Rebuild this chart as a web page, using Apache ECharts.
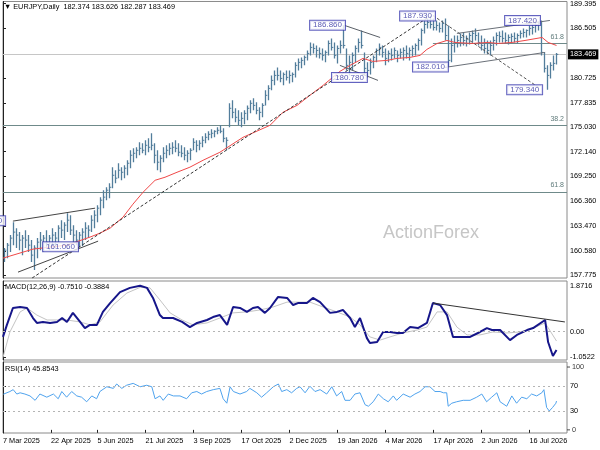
<!DOCTYPE html>
<html><head><meta charset="utf-8">
<script src="https://cdn.jsdelivr.net/npm/echarts@6.0.0/dist/echarts.min.js"></script>
<style>html,body{margin:0;padding:0;background:#fff}#c{width:600px;height:450px}</style>
</head><body><div id="c"></div>
<script>
// ---- data ----
const barHigh=[160.91,161.49,162.42,163.93,163.23,162.77,162.42,163.00,162.42,161.84,
161.25,162.07,162.77,162.42,163.00,162.42,163.23,162.77,163.58,164.16,
163.93,164.98,164.74,163.58,163.00,162.77,163.23,163.93,163.58,164.74,
165.33,165.91,166.84,167.65,167.99,168.46,170.33,169.98,170.79,170.33,
170.56,171.14,172.30,172.53,172.65,173.23,173.12,173.46,173.69,174.28,
173.12,172.30,171.72,172.65,172.88,173.12,173.23,173.46,173.12,172.88,
172.65,172.30,172.53,173.69,173.46,173.46,173.93,174.28,174.51,174.74,
174.63,174.98,175.21,174.86,173.81,177.77,178.12,177.19,176.95,176.72,
176.95,177.53,178.12,178.35,177.88,177.30,177.77,179.28,179.86,181.02,
181.60,181.95,181.60,181.37,181.60,181.60,181.37,182.54,183.00,183.12,
183.35,183.93,184.86,184.74,184.51,184.28,184.16,183.93,185.09,185.33,
184.86,184.51,185.09,186.86,184.16,183.35,183.70,184.51,185.33,186.26,
183.70,182.54,183.00,183.35,184.16,184.74,184.51,184.16,183.93,184.16,
184.28,183.93,184.16,184.28,184.51,184.28,184.51,184.74,185.33,186.49,
187.42,187.65,187.93,187.65,187.42,187.19,187.42,187.65,186.84,185.33,
185.67,185.67,185.91,186.02,185.67,186.02,186.26,186.49,186.02,185.67,
185.33,185.09,185.09,185.56,186.02,186.14,186.26,186.02,185.79,185.91,
186.02,185.91,186.26,186.49,186.37,186.84,186.95,187.19,187.30,187.42,
183.70,182.19,182.54,183.35,183.626];
const barLow=[159.28,159.74,160.44,161.25,160.91,160.67,160.09,160.91,160.44,159.28,
158.35,159.74,160.67,160.44,160.91,160.67,161.25,160.91,161.60,162.07,
161.84,162.77,162.42,161.60,161.25,161.02,161.14,161.84,162.07,162.77,
163.23,163.93,164.74,165.56,166.49,166.72,167.88,168.46,169.05,168.81,
169.05,169.39,170.21,170.91,171.37,171.72,171.95,171.72,172.07,172.30,
170.79,169.98,169.74,170.91,171.37,171.72,171.84,172.07,171.60,171.49,
171.14,170.91,171.14,172.30,172.07,172.30,172.65,173.12,173.46,173.69,
173.81,174.16,174.28,173.23,172.30,174.98,176.02,175.56,175.21,174.98,
175.33,175.79,176.60,176.95,176.49,175.79,176.14,177.53,178.12,179.28,
179.86,180.44,180.21,179.86,180.44,180.09,180.21,180.79,181.60,181.84,
182.19,182.77,183.35,183.58,183.12,183.00,182.77,182.54,183.35,183.93,
183.00,182.42,183.58,184.16,181.60,181.02,181.60,182.54,183.70,184.16,
181.02,180.78,181.14,181.84,182.54,183.35,183.12,182.19,182.54,182.77,
183.00,182.54,183.00,182.77,183.00,182.77,183.23,183.35,183.93,184.51,
185.91,186.49,186.49,186.26,186.26,186.02,186.02,185.09,182.01,182.54,
183.70,184.28,184.40,184.51,184.40,184.63,184.86,185.09,184.51,183.93,
183.58,183.47,183.35,183.93,184.51,184.86,184.86,184.74,184.63,184.86,
184.86,184.74,185.33,185.44,185.44,185.67,185.79,186.02,186.26,183.35,
181.37,179.34,180.67,181.60,182.287];
const barClose=[160.67,161.25,162.07,162.77,162.42,161.84,162.07,161.84,161.25,160.09,
160.91,161.60,161.84,162.07,161.60,162.07,162.42,162.07,163.23,163.00,
163.58,164.16,163.00,162.42,161.84,162.42,162.77,163.23,163.00,164.16,
164.74,165.56,166.49,166.84,167.65,167.99,169.39,169.05,169.98,169.74,
170.21,170.79,171.72,171.95,172.30,172.53,172.30,172.88,172.65,172.88,
171.72,170.91,171.37,171.95,172.30,172.53,172.65,172.53,172.07,171.95,
171.72,171.95,172.30,173.23,172.88,173.12,173.46,173.81,174.16,174.28,
174.51,174.63,174.51,173.69,173.46,177.19,176.72,176.14,175.79,176.02,
176.60,177.19,177.77,177.53,176.95,176.72,177.53,178.70,179.51,180.44,
181.02,181.02,180.67,181.14,180.79,181.02,181.14,182.19,182.54,182.77,
183.12,183.58,184.28,184.16,183.93,183.58,183.35,183.70,184.74,184.28,
183.35,184.16,184.51,184.51,182.19,182.54,183.35,184.16,184.86,184.51,
181.84,181.60,182.54,183.12,183.93,184.28,183.70,183.00,183.58,183.35,
183.93,183.35,183.70,183.93,183.58,183.93,184.16,184.51,185.09,186.26,
186.95,187.19,186.95,186.60,186.84,186.49,187.07,185.67,182.77,184.51,
184.86,185.09,185.44,185.09,185.33,185.67,185.91,185.67,184.86,184.51,
184.16,183.93,184.51,185.09,185.67,185.56,185.33,185.09,185.44,185.56,
185.33,185.67,185.91,186.02,186.26,186.49,186.60,186.84,187.07,183.70,
181.84,181.02,182.19,182.42,183.469];
// moving average (bar position, price)
const maPts=[[0,159.74],[10,160.79],[21.3,161.25],[29,162.19],[32.3,162.65],[35.7,163.23],[40,164.51],[43.3,166.02],[46.7,167.42],[50.7,168.81],[54,169.16],[58,169.74],[62.3,170.33],[66.7,171.14],[72.3,172.07],[80,173.81],[89,175.21],[93.3,176.72],[98,177.53],[102.3,178.70],[106.7,179.86],[112.3,181.49],[115.7,182.19],[120,183.00],[123.3,182.65],[128,182.77],[131.3,183.00],[135.7,183.12],[139,183.35],[141.3,184.05],[144.7,184.74],[148,185.09],[150.7,184.86],[156.3,184.74],[161.7,184.86],[165,184.74],[169.7,184.86],[174,185.09],[179.7,185.44],[181.7,184.86],[184.5,184.51]];
const macdPts=[[0,-0.22],[1.3,0.27],[3.3,0.96],[5.7,1.00],[8,0.96],[10,0.55],[11.3,0.35],[13.3,0.39],[15.7,0.35],[18,0.39],[19.7,0.55],[21.3,0.39],[23.3,0.76],[25.7,0.39],[27.3,0.14],[29,0.27],[31.3,0.27],[33.3,0.80],[35.7,1.16],[39,1.61],[42.3,1.78],[45.7,1.87],[48,1.78],[50,1.37],[52.3,0.67],[53.3,0.55],[56.7,0.55],[59.7,0.39],[62.3,0.18],[64.7,0.35],[68,0.47],[70,0.59],[72.3,0.67],[74.7,0.27],[76.7,1.00],[79,0.96],[81.3,0.80],[83.3,0.96],[85,1.00],[87.3,0.76],[89,0.96],[91.7,1.41],[94.7,1.37],[96.7,1.08],[98.3,1.16],[101.3,1.16],[103.3,1.37],[105.7,1.20],[109,0.76],[111.3,0.80],[113.3,0.88],[115.7,0.55],[117.3,0.18],[119,0.55],[121.3,-0.27],[122.3,-0.47],[124.7,-0.43],[126.7,-0.02],[129,-0.02],[131.3,-0.06],[133.3,-0.06],[135.7,0.18],[138.3,0.14],[141.3,0.35],[143.3,1.16],[145.7,1.08],[148,0.67],[150,-0.22],[152.3,-0.22],[155.7,-0.22],[159,-0.02],[161.3,0.14],[163,0.06],[165.7,0.06],[169,-0.35],[171.3,-0.14],[174.7,0.06],[176.7,0.14],[180.7,0.47],[181.7,-0.43],[183.3,-1.00],[184.5,-0.751]];
const signalPts=[[0,-1.05],[2.3,-0.02],[5.7,0.80],[8,0.96],[11.3,0.67],[14.7,0.47],[21.3,0.47],[25.7,0.39],[29,0.27],[32.3,0.39],[36.7,1.08],[41.3,1.57],[45.7,1.80],[49,1.78],[52.3,1.29],[55.7,0.76],[59.7,0.47],[63.3,0.27],[68,0.35],[72.3,0.55],[76.7,0.76],[81.3,0.80],[85.7,0.88],[90,1.00],[94.7,1.20],[98.3,1.20],[102.3,1.20],[106.7,1.00],[111.3,0.80],[115.7,0.59],[119,0.27],[122.3,-0.22],[125.7,-0.35],[129,-0.22],[133.3,-0.06],[138,0.06],[141.3,0.18],[144.7,0.80],[148,0.80],[151.3,0.18],[154.7,-0.14],[159,-0.14],[163.3,-0.02],[168,-0.06],[172.3,-0.02],[176.7,0.14],[180.7,0.35],[184.5,-0.3884]];
const rsiPts=[[0.1,56.7],[2.3,61],[3.4,64],[4.6,57],[5.7,59],[7.3,57],[9,54],[10.7,47],[12.3,57],[14.6,52],[16.8,57],[18.4,49.5],[19.6,61],[21.2,52],[22.9,61],[24.6,54],[26.2,52],[27.9,44.7],[29.6,54],[31.2,49.5],[32.3,61],[34.6,68.6],[36.8,66],[37.9,73],[39.6,66],[41.2,71],[43.4,74],[45.7,68.6],[47.9,71],[49.6,68.6],[50.7,49.5],[51.2,47],[52.3,54],[53.4,47],[55.1,57],[56.8,54],[59,54],[61.2,49.5],[62.9,59],[64.6,61],[66.2,57],[67.9,61],[70.1,64],[72.3,66],[73.4,49.5],[74.6,42.4],[75.7,68.6],[76.8,61],[79,57],[81.2,61],[82.3,66],[84.6,59],[86.2,52],[87.9,59],[90.1,68.6],[91.8,73],[92.9,61],[94.6,64],[96.2,59],[97.9,66],[99,68.6],[100.7,59],[102.3,69.5],[104,61],[105.7,64],[107.9,57],[109.6,68.6],[111.2,54],[112.9,61],[114,47],[115.7,47],[117.3,57],[119,59],[120.7,40],[121.8,37.6],[123.4,44.7],[125.1,57],[126.8,49.5],[128.4,44.7],[130.1,54],[131.2,47],[133.4,57],[135.7,52],[137.3,57],[139,61],[140.7,68.6],[142.3,68.6],[144,61],[145.7,61],[146.8,59],[147.9,59],[148.4,37.6],[149.6,42.4],[151.2,44.7],[153.4,47],[155.7,47],[157.9,52],[159.6,57],[161.2,44.7],[162.9,52],[164.6,59],[165.7,44.7],[167.9,37.6],[169.6,54],[171.2,42.4],[172.9,52],[174.6,49.5],[176.2,57],[177.9,54],[179.6,59],[180.3,64],[181.2,35.7],[182.1,30],[183.2,35.7],[184.3,42.4],[184.5,45.85]];
const priceTicks=[189.395,186.505,180.725,177.835,175.030,172.140,169.250,166.360,163.470,160.580,157.775];
const macdTicks=[1.8716,0,-1.0522];
const rsiLevelTicks=[70,30];
const rsiBoundTicks=[100,0];
const dateLabels=['7 Mar 2025','22 Apr 2025','5 Jun 2025','21 Jul 2025','3 Sep 2025','17 Oct 2025','2 Dec 2025','19 Jan 2026','4 Mar 2026','17 Apr 2026','2 Jun 2026','16 Jul 2026'];
const dateTickIdx=[0,16,31.5,47.5,63.5,79.5,95.5,111.5,127.5,143.5,159.5,175.5];
const lastPrice=183.469;
const fibLevels=[{name:'61.8',value:184.72,from:143.3},{name:'38.2',value:175.21,from:0},{name:'61.8',value:167.45,from:0}];
const pivotLabels=[
 {text:'164.050',at:0.7,price:164.10},
 {text:'161.060',at:25,price:161.06},
 {text:'186.860',at:114,price:186.86},
 {text:'180.780',at:121.3,price:180.78},
 {text:'187.930',at:144,price:187.93},
 {text:'182.010',at:148.3,price:182.01},
 {text:'187.420',at:179,price:187.42},
 {text:'179.340',at:179.7,price:179.34}];
const trendLines=[
 {pts:[[9.7,157.42],[142,187.85]],dash:true,color:'#333'},
 {pts:[[3.3,164.05],[30.7,165.56]],dash:false,color:'#444'},
 {pts:[[5,158.11],[31.7,161.72]],dash:false,color:'#444'},
 {pts:[[113.7,186.86],[125.7,185.44]],dash:false,color:'#5a6068'},
 {pts:[[112.3,182.19],[125,180.44]],dash:false,color:'#5a6068'},
 {pts:[[143.3,188.0],[179,179.51]],dash:true,color:'#555'},
 {pts:[[147.3,181.95],[180.7,183.70]],dash:false,color:'#6a7078'},
 {pts:[[151.3,185.91],[182.3,187.42]],dash:false,color:'#6a7078'}];
const macdTrend=[[143.3,1.16],[187.3,0.39]];
const N_SLOTS=188;

// ---- chart ----
const FONT='"Liberation Sans","DejaVu Sans",sans-serif';
const FS=7.3;
const BAR_COLOR='#527d9b';
const chart=echarts.init(document.getElementById('c'),null,{renderer:'canvas'});
const barData=barHigh.map((h,i)=>[i+0.5,h,barLow[i],barClose[i]]);

const xBase={type:'value',min:0,max:N_SLOTS,show:false,splitLine:{show:false}};
const yCommon=(idx,min,max,ticks,fmt)=>({
  type:'value',gridIndex:idx,position:'right',min:min,max:max,scale:true,
  axisLine:{show:true,lineStyle:{color:'#222',width:1}},
  axisTick:{show:true,length:3,lineStyle:{color:'#222'},customValues:ticks},
  axisLabel:{customValues:ticks,formatter:fmt,fontSize:FS,fontFamily:FONT,color:'#000',margin:3,showMinLabel:true,showMaxLabel:true},
  splitLine:{show:false}
});

const series=[];
series.push({
  type:'custom',xAxisIndex:0,yAxisIndex:0,data:barData,clip:true,z:3,
  renderItem:(params,api)=>{
    const x=api.value(0);
    const t=api.coord([x,api.value(1)]);
    const b=api.coord([x,api.value(2)]);
    const c=api.coord([x,api.value(3)]);
    return {type:'group',children:[
      {type:'line',shape:{x1:t[0],y1:t[1],x2:b[0],y2:b[1]},style:{stroke:BAR_COLOR,lineWidth:1.3}},
      {type:'line',shape:{x1:c[0],y1:c[1],x2:c[0]+1.8,y2:c[1]},style:{stroke:BAR_COLOR,lineWidth:1}}
    ]};
  }
});
const fibMark=fibLevels.map(f=>[
  {coord:[f.from,f.value],lineStyle:{color:'#6f8a8a',type:'solid',width:1},
   label:{show:true,position:'insideEndTop',formatter:f.name,color:'#5f7a7a',fontSize:7,fontFamily:FONT,distance:3}},
  {coord:[N_SLOTS,f.value]}]);
series.push({
  type:'line',xAxisIndex:0,yAxisIndex:0,data:maPts,showSymbol:false,symbol:'none',z:4,
  lineStyle:{color:'#f04848',width:1},
  markLine:{silent:true,symbol:['none','none'],animation:false,z:2,
    data:[{yAxis:lastPrice,lineStyle:{color:'#c6c6c6',type:'solid',width:1},
      label:{show:true,position:'end',formatter:lastPrice.toFixed(3),backgroundColor:'#000',color:'#fff',
        padding:[2,2,1,2],fontSize:FS,fontFamily:FONT,distance:1}}].concat(fibMark)}
});
trendLines.forEach(t=>series.push({type:'line',xAxisIndex:0,yAxisIndex:0,data:t.pts,symbol:'none',z:5,
  lineStyle:{color:t.color,width:1,type:t.dash?[3,2]:'solid'}}));
series.push({type:'scatter',xAxisIndex:0,yAxisIndex:0,symbolSize:0,z:8,
  data:pivotLabels.map(p=>({value:[p.at,p.price],name:p.text})),
  label:{show:true,position:'left',distance:0,formatter:p=>p.name,color:'#3030a0',fontSize:8,fontFamily:FONT,
    backgroundColor:'#fff',borderColor:'#3c3cb0',borderWidth:1,padding:[1,3,0,3]}});
// MACD
series.push({type:'line',xAxisIndex:1,yAxisIndex:1,data:signalPts,symbol:'none',z:3,
  lineStyle:{color:'#c4c4c4',width:1},
  markLine:{silent:true,symbol:['none','none'],data:[{yAxis:0,lineStyle:{color:'#b4b4b4',type:[2,3],width:1},label:{show:false}}]}});
series.push({type:'line',xAxisIndex:1,yAxisIndex:1,data:macdPts,symbol:'none',z:4,lineStyle:{color:'#16168a',width:2}});
series.push({type:'line',xAxisIndex:1,yAxisIndex:1,data:macdTrend,symbol:'none',z:5,lineStyle:{color:'#333',width:1}});
// RSI
series.push({type:'line',xAxisIndex:2,yAxisIndex:2,data:rsiPts,symbol:'none',z:4,lineStyle:{color:'#4fa3ee',width:1},
  markLine:{silent:true,symbol:['none','none'],
    data:rsiLevelTicks.map(v=>({yAxis:v,lineStyle:{color:'#b4b4b4',type:[2,3],width:1},label:{show:false}}))}});
// RSI 100 / 0 scale labels, placed at the right edge through the RSI axes
series.push({type:'scatter',xAxisIndex:2,yAxisIndex:2,clip:false,z:9,silent:true,
  symbol:'rect',symbolSize:[3,1],symbolOffset:[1.5,0],itemStyle:{color:'#222'},
  data:rsiBoundTicks.map(v=>({value:[N_SLOTS,v],name:String(v)})),
  label:{show:true,position:'right',distance:2,formatter:p=>p.name,color:'#000',fontSize:FS,fontFamily:FONT}});

const option={
  animation:false,backgroundColor:'#fff',
  grid:[
    {left:3,right:33,top:1,height:277,show:true,borderColor:'#8a8a8a',borderWidth:1},
    {left:3,right:33,top:281,height:79,show:true,borderColor:'#8a8a8a',borderWidth:1},
    {left:3,right:33,top:362,height:71,show:true,borderColor:'#8a8a8a',borderWidth:1}],
  xAxis:[Object.assign({gridIndex:0},xBase),Object.assign({gridIndex:1},xBase),
    {type:'value',gridIndex:2,min:0,max:N_SLOTS,splitLine:{show:false},
     axisLine:{show:false},
     axisTick:{show:true,length:3,customValues:dateTickIdx,lineStyle:{color:'#222'}},
     axisLabel:{customValues:dateTickIdx,formatter:v=>{const k=dateTickIdx.indexOf(v);return k>=0?dateLabels[k]:'';},
       align:'left',fontSize:FS,fontFamily:FONT,color:'#000',margin:4}}],
  yAxis:[
    yCommon(0,157.426,189.628,priceTicks,v=>v.toFixed(3)),
    yCommon(1,-1.163,2.061,macdTicks,v=>v===0?'0.00':v.toFixed(4)),
    yCommon(2,-5,108,rsiLevelTicks,v=>String(v))],
  graphic:[
    {type:'text',left:383,top:224,z:0,silent:true,style:{text:'ActionForex',font:'18px '+FONT,fill:'#c6c6c6'}},
    {type:'text',left:4,top:3,z:10,style:{text:'\u25BC EURJPY,Daily  182.374 183.626 182.287 183.469',font:FS+'px '+FONT,fill:'#000'}},
    {type:'text',left:5,top:283,z:10,style:{text:'MACD(12,26,9) -0.7510 -0.3884',font:FS+'px '+FONT,fill:'#000'}},
    {type:'text',left:5,top:365,z:10,style:{text:'RSI(14) 45.8543',font:FS+'px '+FONT,fill:'#000'}}],
  series:series
};
chart.setOption(option);
</script></body></html>
